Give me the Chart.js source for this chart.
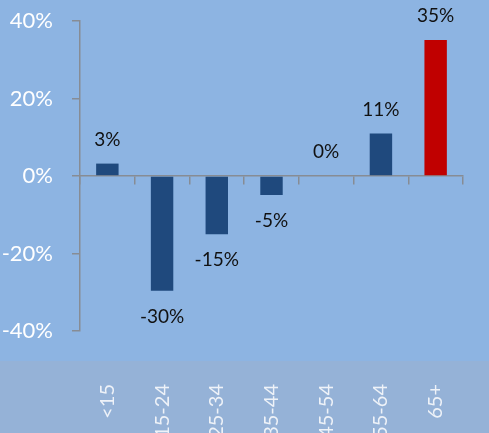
<!DOCTYPE html>
<html lang="en">
<head>
<meta charset="UTF-8" />
<title>Change by age group</title>
<script src="https://cdn.jsdelivr.net/npm/chart.js"></script>
<style>
  html, body { margin: 0; padding: 0; background: #8db4e2; }
  #wrap { width: 489px; height: 433px; }
</style>
</head>
<body>
<div id="wrap"><canvas id="ageChart"></canvas></div>
<script>
  // data
  const ageGroups = ['<15', '15-24', '25-34', '35-44', '45-54', '55-64', '65+'];
  const changePct = [3.2, -29.6, -15, -4.9, 0, 11, 35.1];
  const yTicks = [-40, -20, 0, 20, 40];

  const AXIS_GRAY = '#878c94';
  const barColors = changePct.map((v, i) => i === changePct.length - 1 ? '#c00000' : '#1f497d');

  const bgPlugin = {
    id: 'bg',
    beforeDraw(chart) {
      const { ctx, width, height } = chart;
      ctx.save();
      ctx.fillStyle = '#8db4e2';
      ctx.fillRect(0, 0, width, height);
      ctx.fillStyle = '#95b2d7';
      ctx.fillRect(0, 361, width, height - 361);
      ctx.restore();
    }
  };

  // value labels above / below each bar
  const valueLabels = {
    id: 'valueLabels',
    afterDatasetsDraw(chart) {
      const { ctx } = chart;
      const meta = chart.getDatasetMeta(0);
      ctx.save();
      ctx.fillStyle = '#111';
      ctx.font = '19px Lato, "Open Sans", sans-serif';
      ctx.textAlign = 'center';
      ctx.textBaseline = 'middle';
      meta.data.forEach((bar, i) => {
        const v = changePct[i];
        const y = v < 0 ? bar.y + 26 : bar.y - 24;
        ctx.fillText(Math.round(v) + '%', bar.x, y);
      });
      ctx.restore();
    }
  };

  new Chart(document.getElementById('ageChart'), {
    type: 'bar',
    data: {
      labels: ageGroups,
      datasets: [{
        data: changePct,
        backgroundColor: barColors,
        borderWidth: 0,
        categoryPercentage: 1,
        barPercentage: 0.41
      }]
    },
    options: {
      responsive: true,
      maintainAspectRatio: false,
      animation: false,
      layout: { padding: { top: 21, right: 26, left: 0, bottom: 0 } },
      plugins: {
        legend: { display: false },
        tooltip: { enabled: false }
      },
      scales: {
        x: {
          type: 'category',
          position: { y: 0 },
          z: 1,
          offset: true,
          ticks: { display: false },
          grid: {
            offset: true,
            drawOnChartArea: false,
            tickLength: 8,
            color: AXIS_GRAY,
            lineWidth: 1.5
          },
          border: { color: AXIS_GRAY, width: 1.5 }
        },
        x2: {
          type: 'category',
          position: 'bottom',
          offset: true,
          grid: { display: false, drawTicks: false },
          border: { display: false },
          ticks: {
            color: '#eef2f8',
            font: { family: 'Lato, "Open Sans", sans-serif', size: 20 },
            minRotation: 90,
            maxRotation: 90,
            autoSkip: false,
            padding: 53
          },
          afterFit(scale) {
            scale.height = 102;
            scale.paddingLeft = 0;
            scale.paddingRight = 0;
          }
        },
        y: {
          min: -40,
          max: 40,
          afterBuildTicks(scale) { scale.ticks = yTicks.map(v => ({ value: v })); },
          ticks: {
            color: '#ffffff',
            font: { family: 'Lato, "Open Sans", sans-serif', size: 22 },
            padding: 19,
            callback: v => v + '%'
          },
          grid: {
            drawOnChartArea: false,
            tickLength: 8,
            color: AXIS_GRAY,
            lineWidth: 1.5
          },
          border: { color: AXIS_GRAY, width: 1.5 },
          afterFit(scale) {
            scale.width = 80;
            scale.paddingTop = 0;
            scale.paddingBottom = 0;
          }
        }
      }
    },
    plugins: [bgPlugin, valueLabels]
  });
</script>
</body>
</html>
